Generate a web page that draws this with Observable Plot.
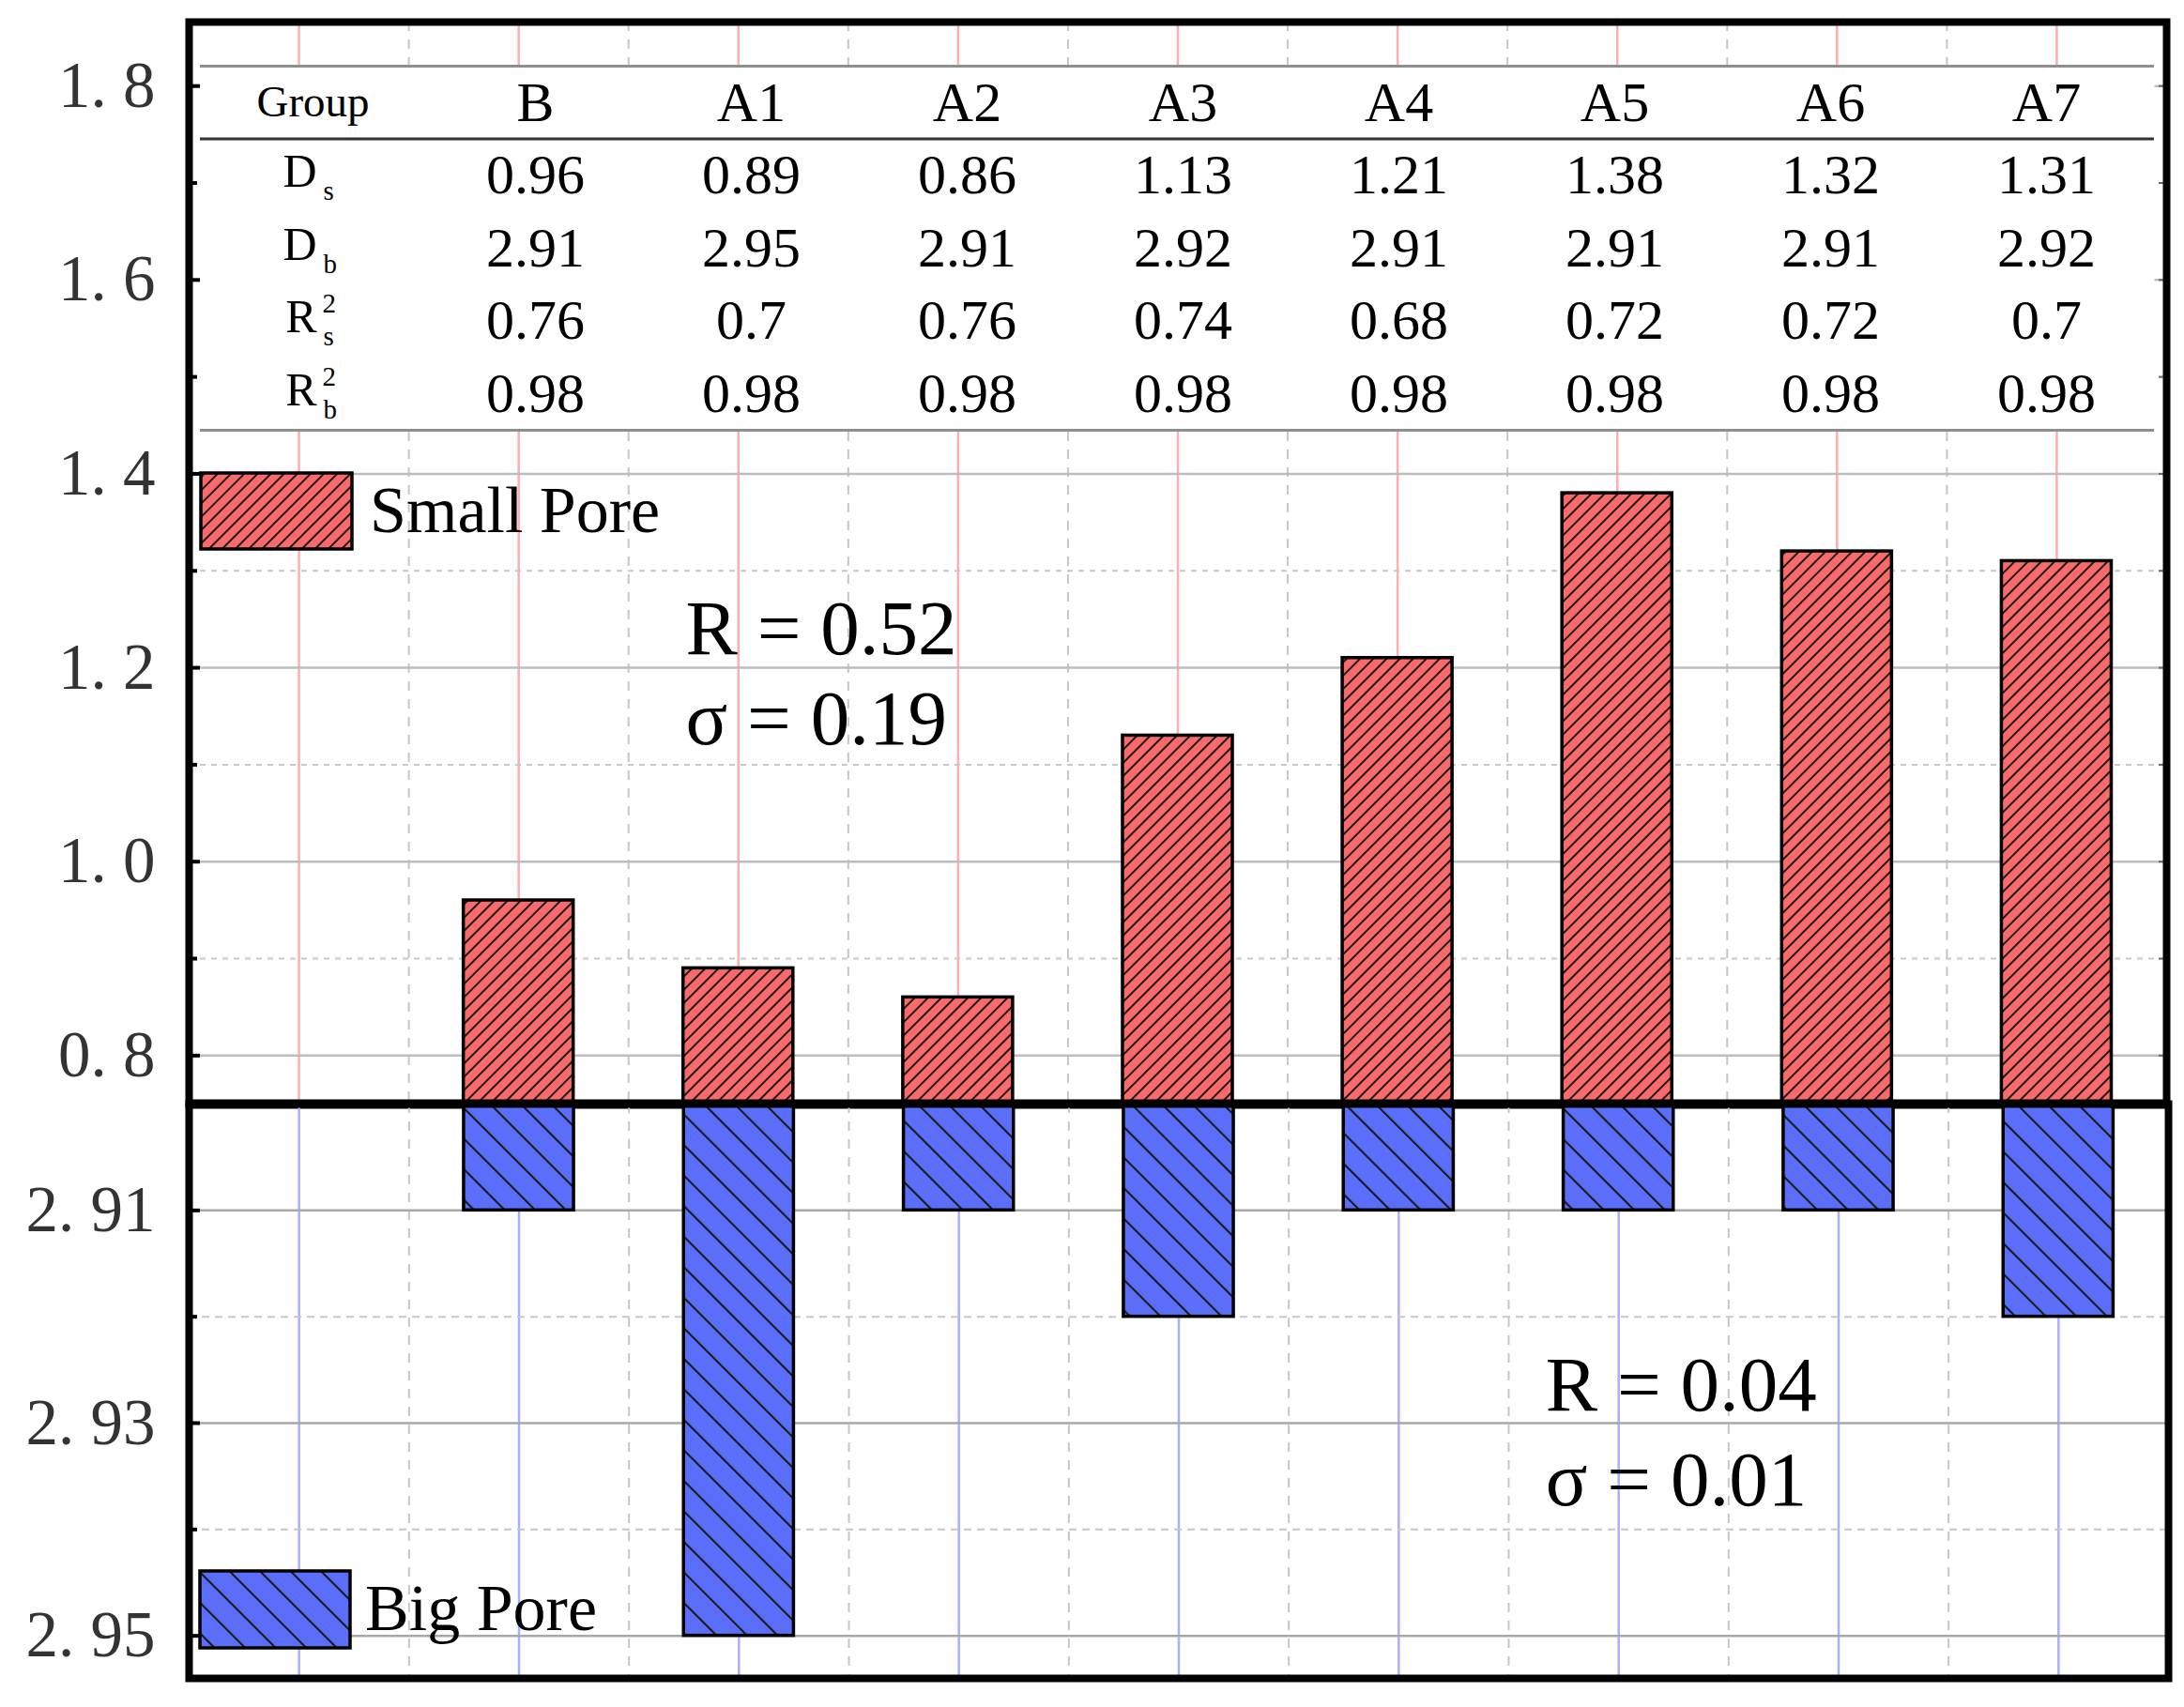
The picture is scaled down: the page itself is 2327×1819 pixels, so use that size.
<!DOCTYPE html>
<html>
<head>
<meta charset="utf-8">
<script src="https://cdn.jsdelivr.net/npm/d3@7"></script>
<script src="https://cdn.jsdelivr.net/npm/@observablehq/plot@0.6"></script>
<style>
  html, body { margin: 0; padding: 0; background: #fff; }
  #chart { position: relative; width: 2327px; height: 1819px; overflow: hidden; background: #fff; }
  #chart > svg { position: absolute; left: 0; }
</style>
</head>
<body>
<svg width="0" height="0" style="position:absolute">
  <defs>
    <pattern id="hatchRed" patternUnits="userSpaceOnUse" width="10" height="10" patternTransform="rotate(45)">
      <rect width="10" height="10" fill="#FA6A6A"></rect>
      <line x1="1" y1="0" x2="1" y2="10" stroke="#1a1a1a" stroke-width="2"></line>
    </pattern>
    <pattern id="hatchBlue" patternUnits="userSpaceOnUse" width="23" height="23" patternTransform="rotate(-45)">
      <rect width="23" height="23" fill="#5B6EFA"></rect>
      <line x1="1" y1="0" x2="1" y2="23" stroke="#1a1a1a" stroke-width="2.2"></line>
    </pattern>
  </defs>
</svg>
<div id="chart"></div>
<script>
// ---------- data ----------
const columns = ["Group", "B", "A1", "A2", "A3", "A4", "A5", "A6", "A7"];
const groups = ["B", "A1", "A2", "A3", "A4", "A5", "A6", "A7"];
const smallPoreD = [0.96, 0.89, 0.86, 1.13, 1.21, 1.38, 1.32, 1.31];
const bigPoreD = [2.91, 2.95, 2.91, 2.92, 2.91, 2.91, 2.91, 2.92];
const smallPoreR2 = [0.76, 0.7, 0.76, 0.74, 0.68, 0.72, 0.72, 0.7];
const bigPoreR2 = [0.98, 0.98, 0.98, 0.98, 0.98, 0.98, 0.98, 0.98];
const rowMain = ["D", "D", "R", "R"];
const rowSub = ["s", "b", "s", "b"];
const rowSup = ["", "", "2", "2"];
const topMajorTicks = [0.8, 1.0, 1.2, 1.4, 1.6, 1.8];
const topMinorTicks = [0.9, 1.1, 1.3, 1.5, 1.7];
const bottomMajorTicks = [2.91, 2.93, 2.95];
const bottomMinorTicks = [2.92, 2.94];
const topDomain = [0.75, 1.866];
const bottomDomain = [2.90, 2.954];
const topNotes = [
  {x: 2.76, y: 1.2137, text: "R = 0.52"},
  {x: 2.76, y: 1.1208, text: "σ = 0.19"}
];
const bottomNotes = [
  {x: 6.668, y: 2.92885, text: "R = 0.04"},
  {x: 6.668, y: 2.93768, text: "σ = 0.01"}
];
const legendItems = [
  {label: "Small Pore", pattern: "hatchRed"},
  {label: "Big Pore", pattern: "hatchBlue"}
];

// ---------- layout ----------
const W = 2327;
const serif = "'Liberation Serif', 'Times New Roman', serif";
const xDomain = [0.5, columns.length + 0.5];
const mids = columns.slice(1).map((d, i) => i + 1.5);
const tableRows = [smallPoreD, bigPoreD, smallPoreR2, bigPoreR2];
const fmt1 = d => d.toFixed(1).replace(".", ". ");
const fmt2 = d => d.toFixed(2).replace(".", ". ");
const baseStyle = {background: "transparent", overflow: "visible", fontFamily: serif};
const chart = document.getElementById("chart");

// ---------- top panel (small pore) ----------
const topPlot = Plot.plot({
  width: W, height: 1176,
  marginTop: 23, marginBottom: 0, marginLeft: 201, marginRight: 19,
  style: baseStyle,
  x: {domain: xDomain, axis: null},
  y: {domain: topDomain},
  marks: [
    Plot.ruleX(columns, {x: (d, i) => i + 1, stroke: "#ffaeae", strokeWidth: 2.5}),
    Plot.ruleX(mids, {x: d => d, stroke: "#c6c6c6", strokeWidth: 2, strokeDasharray: "10,9"}),
    Plot.ruleY(topMajorTicks, {y: d => d, stroke: "#bdbdbd", strokeWidth: 2.5}),
    Plot.ruleY(topMinorTicks, {y: d => d, stroke: "#c8c8c8", strokeWidth: 2, strokeDasharray: "6,6"}),
    Plot.rect(groups, {
      x1: (d, i) => i + 1.75, x2: (d, i) => i + 2.25,
      y1: topDomain[0], y2: (d, i) => smallPoreD[i],
      fill: "url(#hatchRed)", stroke: "black", strokeWidth: 3.5
    }),
    Plot.text(topNotes, {x: "x", y: "y", text: "text", textAnchor: "start", lineAnchor: "bottom",
      fontSize: 83, fontFamily: serif, fill: "black"}),
    Plot.axisY(topMajorTicks, {anchor: "left", tickSize: -12, tickPadding: 48, tickFormat: fmt1,
      fontSize: 69, fontFamily: serif, fill: "#333", stroke: "black", strokeWidth: 4, label: null}),
    Plot.axisY(topMinorTicks, {anchor: "left", tickSize: -9, tickFormat: () => "", stroke: "black", strokeWidth: 4, label: null}),
    Plot.axisY([...topMajorTicks, ...topMinorTicks], {anchor: "right", tickSize: -9, tickFormat: () => "",
      stroke: "#666", strokeWidth: 2, label: null}),
    Plot.frame({stroke: "black", strokeWidth: 8}),
    Plot.ruleY([topDomain[0]], {y: d => d, stroke: "black", strokeWidth: 10})
  ]
});
topPlot.style.top = "0px";
chart.appendChild(topPlot);

// ---------- bottom panel (big pore) ----------
const bottomPlot = Plot.plot({
  width: W, height: 643,
  marginTop: 0, marginBottom: 31, marginLeft: 201, marginRight: 17,
  style: baseStyle,
  x: {domain: xDomain, axis: null},
  y: {domain: bottomDomain, reverse: true},
  marks: [
    Plot.ruleX(columns, {x: (d, i) => i + 1, stroke: "#a9afff", strokeWidth: 2.5}),
    Plot.ruleX(mids, {x: d => d, stroke: "#c6c6c6", strokeWidth: 2, strokeDasharray: "10,9"}),
    Plot.ruleY(bottomMajorTicks, {y: d => d, stroke: "#a8a8a8", strokeWidth: 2.5}),
    Plot.ruleY(bottomMinorTicks, {y: d => d, stroke: "#c8c8c8", strokeWidth: 2, strokeDasharray: "8,6"}),
    Plot.rect(groups, {
      x1: (d, i) => i + 1.75, x2: (d, i) => i + 2.25,
      y1: bottomDomain[0], y2: (d, i) => bigPoreD[i],
      fill: "url(#hatchBlue)", stroke: "black", strokeWidth: 3.5
    }),
    Plot.text(bottomNotes, {x: "x", y: "y", text: "text", textAnchor: "start", lineAnchor: "bottom",
      fontSize: 83, fontFamily: serif, fill: "black"}),
    Plot.axisY(bottomMajorTicks, {anchor: "left", tickSize: -12, tickPadding: 48, tickFormat: fmt2,
      fontSize: 69, fontFamily: serif, fill: "#333", stroke: "black", strokeWidth: 4, label: null}),
    Plot.axisY(bottomMinorTicks, {anchor: "left", tickSize: -9, tickFormat: () => "", stroke: "black", strokeWidth: 4, label: null}),
    Plot.frame({stroke: "black", strokeWidth: 8})
  ]
});
bottomPlot.style.top = "1176px";
chart.appendChild(bottomPlot);

// ---------- parameter table ----------
const rowMarks = tableRows.map((vals, r) =>
  Plot.text(vals, {x: (d, i) => i + 2, y: r + 1.5, text: d => String(d), fontSize: 60, fontFamily: serif, fill: "black"})
);
const tablePlot = Plot.plot({
  width: W, height: 400,
  marginTop: 6, marginBottom: 6, marginLeft: 213, marginRight: 32,
  style: baseStyle,
  x: {domain: xDomain, range: [225, 2295], axis: null},
  y: {domain: [0, 5], range: [6, 394], axis: null},
  marks: [
    Plot.frame({fill: "white", stroke: "none"}),
    Plot.ruleY([0, 5], {y: d => d, stroke: "#8e8e8e", strokeWidth: 3}),
    Plot.ruleY([1], {y: d => d, stroke: "#333", strokeWidth: 3}),
    Plot.text([columns[0]], {x: 1, y: 0.5, dx: -7, text: d => d, fontSize: 47, fontFamily: serif, fill: "black"}),
    Plot.text(groups, {x: (d, i) => i + 2, y: 0.5, text: d => d, fontSize: 60, fontFamily: serif, fill: "black"}),
    ...rowMarks,
    Plot.text(rowMain, {x: 1, y: (d, i) => i + 1.5, dx: -3, dy: -4, text: d => d, textAnchor: "end",
      fontSize: 50, fontFamily: serif, fill: "black"}),
    Plot.text(rowSub, {x: 1, y: (d, i) => i + 1.5, dx: 4, dy: 17, text: d => d, textAnchor: "start",
      fontSize: 29, fontFamily: serif, fill: "black"}),
    Plot.text(rowSup, {x: 1, y: (d, i) => i + 1.5, dx: 3, dy: -18, text: d => d, textAnchor: "start",
      fontSize: 29, fontFamily: serif, fill: "black"})
  ]
});
tablePlot.style.top = "64px";
chart.appendChild(tablePlot);

// ---------- in-plot legends ----------
const legendBoxes = [
  {x: 214, y: 504, w: 161, h: 81, tx: 394, ty: 567},
  {x: 213, y: 1674, w: 160, h: 82, tx: 389, ty: 1737}
];
const overlay = d3.create("svg")
  .attr("width", W).attr("height", 1819)
  .style("top", "0px").style("pointer-events", "none");
legendItems.forEach((item, k) => {
  const b = legendBoxes[k];
  overlay.append("rect").attr("x", b.x).attr("y", b.y).attr("width", b.w).attr("height", b.h)
    .attr("fill", `url(#${item.pattern})`).attr("stroke", "black").attr("stroke-width", 3.5);
  overlay.append("text").attr("x", b.tx).attr("y", b.ty).attr("font-family", serif)
    .attr("font-size", 70).attr("fill", "black").text(item.label);
});
chart.appendChild(overlay.node());
</script>
</body>
</html>
